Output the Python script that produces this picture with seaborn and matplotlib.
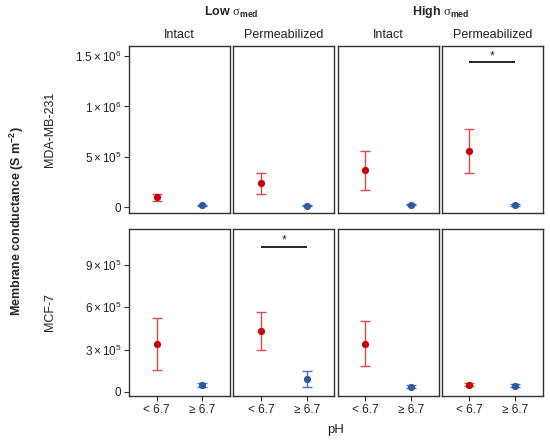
import numpy as np
import pandas as pd
import matplotlib
matplotlib.use("Agg")
import matplotlib.pyplot as plt
import seaborn as sns
from matplotlib.ticker import FixedLocator, FixedFormatter, NullLocator

# ---------------- data ----------------
cell_lines = ["MDA-MB-231", "MCF-7"]
media = ["Low", "Low", "High", "High"]
states = ["Intact", "Permeabilized", "Intact", "Permeabilized"]
ph_levels = ["< 6.7", "≥ 6.7"]

# per panel (Low Intact, Low Perm, High Intact, High Perm) x (acidic, neutral)
mda_mean = [95e3, 15e3, 240e3, 12e3, 367e3, 22e3, 560e3, 20e3]
mda_low = [55e3, 9e3, 133e3, 6e3, 173e3, 16e3, 343e3, 14e3]
mda_high = [133e3, 21e3, 343e3, 18e3, 557e3, 28e3, 777e3, 26e3]

mcf_mean = [339e3, 47e3, 433e3, 92e3, 342e3, 35e3, 49e3, 42e3]
mcf_low = [153e3, 31e3, 294e3, 35e3, 181e3, 25e3, 38e3, 31e3]
mcf_high = [525e3, 63e3, 570e3, 146e3, 504e3, 45e3, 60e3, 53e3]

row_ticks = [[0, 5e5, 1e6, 1.5e6], [0, 3e5, 6e5, 9e5]]
row_ticklabels = [
    ["0", r"$5\times10^{5}$", r"$1\times10^{6}$", r"$1.5\times10^{6}$"],
    ["0", r"$3\times10^{5}$", r"$6\times10^{5}$", r"$9\times10^{5}$"],
]
row_ylim = [(-0.06e6, 1.6e6), (-0.03e6, 1.155e6)]

# significance brackets: (row, panel column, height)
sig_rows = [0, 1]
sig_cols = [3, 1]
sig_heights = [1.44e6, 1.03e6]

# ---------------- table ----------------
records = []
for line, means, lows, highs in [
    (cell_lines[0], mda_mean, mda_low, mda_high),
    (cell_lines[1], mcf_mean, mcf_low, mcf_high),
]:
    for p in range(4):
        for k, ph in enumerate(ph_levels):
            i = 2 * p + k
            records.append(dict(line=line, panel=p, medium=media[p], state=states[p],
                                ph=ph, mean=means[i], lo=lows[i], hi=highs[i]))
df = pd.DataFrame(records)
df["ph"] = pd.Categorical(df["ph"], categories=ph_levels, ordered=True)

# ---------------- style ----------------
sns.set_theme(style="ticks")
plt.rcParams["font.family"] = ["Liberation Sans", "DejaVu Sans"]
plt.rcParams["mathtext.fontset"] = "custom"
plt.rcParams["mathtext.rm"] = "Liberation Sans"
plt.rcParams["mathtext.it"] = "Liberation Sans:italic"
plt.rcParams["mathtext.bf"] = "Liberation Sans:bold"
plt.rcParams["mathtext.sf"] = "Liberation Serif"

marker_colors = {"< 6.7": "#CC0000", "≥ 6.7": "#2B5BA6"}
err_colors = {"< 6.7": "#DD4A4D", "≥ 6.7": "#4A73B8"}
frame = "#333333"

fig, axes = plt.subplots(2, 4, figsize=(5.5, 4.43), dpi=100)
fig.subplots_adjust(left=0.2345, right=0.987, top=0.896, bottom=0.106,
                    wspace=0.033, hspace=0.096)

for r, line in enumerate(cell_lines):
    for c in range(4):
        ax = axes[r, c]
        sub = df[(df["line"] == line) & (df["panel"] == c)].sort_values("ph")
        xs = sub["ph"].cat.codes.to_numpy()
        for x, (_, row) in zip(xs, sub.iterrows()):
            ax.errorbar([x], [row["mean"]],
                        yerr=[[row["mean"] - row["lo"]], [row["hi"] - row["mean"]]],
                        fmt="none", ecolor=err_colors[row["ph"]], elinewidth=1.0,
                        capsize=3.3, capthick=1.0, zorder=2)
        sns.stripplot(data=sub, x="ph", y="mean", hue="ph", order=ph_levels,
                      hue_order=ph_levels, palette=marker_colors, jitter=False,
                      size=5.2, linewidth=0, legend=False, ax=ax, zorder=3)
        ax.set_xlim(-0.6, 1.6)
        ax.set_ylim(*row_ylim[r])
        ax.set_xlabel("")
        ax.set_ylabel("")
        for s in ax.spines.values():
            s.set_visible(True)
            s.set_color(frame)
            s.set_linewidth(1.0)
        ax.tick_params(colors=frame, labelcolor="#222222", length=3.5, width=0.8,
                       labelsize=8.5, pad=2)
        if c == 0:
            ax.yaxis.set_major_locator(FixedLocator(row_ticks[r]))
            ax.yaxis.set_major_formatter(FixedFormatter(row_ticklabels[r]))
        else:
            ax.yaxis.set_major_locator(NullLocator())
        if r == 1:
            ax.set_xticks(range(len(ph_levels)))
            ax.set_xticklabels(ph_levels)
        else:
            ax.xaxis.set_major_locator(NullLocator())
        if r == 0:
            ax.set_title(states[c], fontsize=9, pad=6, color="#222222")

for r, c, h in zip(sig_rows, sig_cols, sig_heights):
    ax = axes[r, c]
    ax.plot([0, 1], [h, h], color="black", lw=1.2, solid_capstyle="butt")
    ax.text(0.5, h, "*", ha="center", va="bottom", fontsize=8.5)

# strip headers
fig.text(0.4215, 0.972, r"Low $\mathsf{\sigma}_{\mathbf{med}}$", ha="center", va="center",
         fontsize=9, fontweight="bold")
fig.text(0.8005, 0.972, r"High $\mathsf{\sigma}_{\mathbf{med}}$", ha="center", va="center",
         fontsize=9, fontweight="bold")

# row labels
fig.text(0.091, 0.709, cell_lines[0], rotation=90, ha="center", va="center", fontsize=9,
         color="#222222")
fig.text(0.091, 0.296, cell_lines[1], rotation=90, ha="center", va="center", fontsize=9,
         color="#222222")

fig.text(0.031, 0.501, r"Membrane conductance (S m$^{\mathbf{-2}}$)", rotation=90,
         ha="center", va="center", fontsize=9, fontweight="bold")
fig.text(0.611, 0.029, "pH", ha="center", va="center", fontsize=9.5, color="#222222")

fig.savefig("out.png", dpi=100)
